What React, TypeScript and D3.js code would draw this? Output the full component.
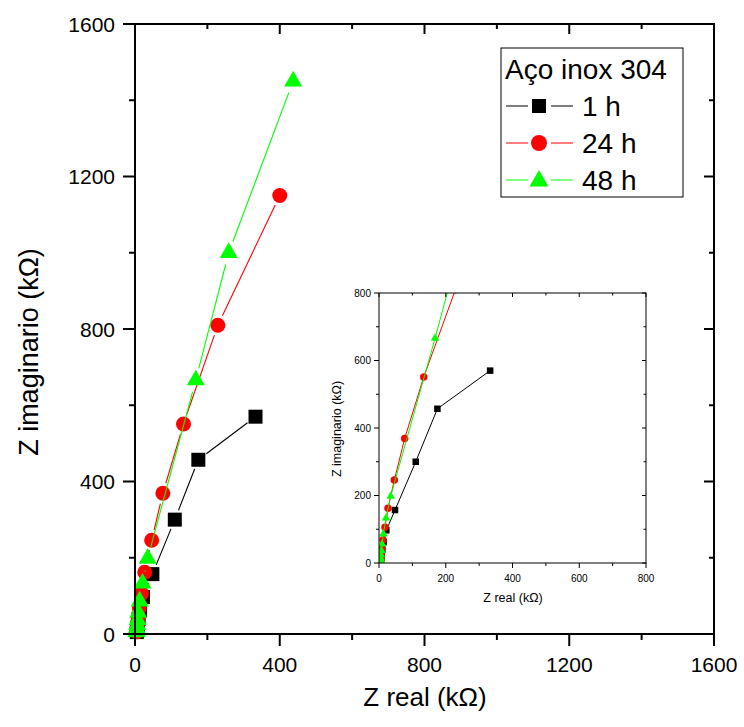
import React from "react";
import * as d3 from "d3";

// Impedance data (kΩ): [Z real, Z imaginario]
const serie1h: [number, number][] = [
  [333, 570], [175, 457], [110, 300], [48, 157], [22, 97], [14, 62],
  [10, 40], [8, 26], [7, 16], [6, 9], [5, 5],
];
const serie24h: [number, number][] = [
  [400, 1150], [229, 810], [134, 551], [77, 369], [46, 246], [27, 162],
  [18, 106], [12, 68], [9, 44], [7, 29], [6, 18], [5, 11], [5, 6],
];
const serie48h: [number, number][] = [
  [437, 1450], [259, 1000], [168, 666], [35, 198], [21, 133], [13, 86],
  [9, 56], [7, 37], [6, 24], [5, 15], [5, 9], [4, 5],
];

const seriesNames = ["1 h", "24 h", "48 h"];
const seriesColors = ["#000000", "#ff0000", "#00ff00"];
const seriesShapes = ["square", "circle", "triangle"];
const seriesData = [serie1h, serie24h, serie48h];

const mainTicks = [0, 400, 800, 1200, 1600];
const mainMinor = [200, 600, 1000, 1400];
const insetTicks = [0, 200, 400, 600, 800];
const insetMinor = [100, 300, 500, 700];

const legendTitle = "Aço inox 304";
const xTitle = "Z real (kΩ)";
const yTitle = "Z imaginario (kΩ)";

const FONT = "'Liberation Sans', Arial, sans-serif";

function symbolPath(shape: string, size: number) {
  // size = nominal width in px
  if (shape === "square") return d3.symbol(d3.symbolSquare, size * size)()!;
  if (shape === "circle") return d3.symbol(d3.symbolCircle, Math.PI * (size / 2) ** 2)()!;
  return d3.symbol(d3.symbolTriangle, (Math.sqrt(3) / 4) * size * size)()!;
}

function Series({
  data, color, shape, x, y, size, gap, lw,
}: {
  data: [number, number][]; color: string; shape: string;
  x: d3.ScaleLinear<number, number>; y: d3.ScaleLinear<number, number>;
  size: number; gap: number; lw: number;
}) {
  const pts = data.map(([a, b]) => [x(a), y(b)] as [number, number]);
  const segs: React.ReactNode[] = [];
  for (let i = 0; i < pts.length - 1; i++) {
    const [x1, y1] = pts[i];
    const [x2, y2] = pts[i + 1];
    const dx = x2 - x1, dy = y2 - y1;
    const len = Math.hypot(dx, dy);
    if (len <= 2 * gap) continue;
    const ux = dx / len, uy = dy / len;
    segs.push(
      <line key={i} x1={x1 + ux * gap} y1={y1 + uy * gap} x2={x2 - ux * gap} y2={y2 - uy * gap}
        stroke={color} strokeWidth={lw} />
    );
  }
  const d = symbolPath(shape, size);
  return (
    <g>
      {segs}
      {pts.map(([px, py], i) => (
        <path key={i} d={d} transform={`translate(${px},${py})`} fill={color} />
      ))}
    </g>
  );
}

export default function App() {
  const W = 744, H = 727;
  const x = d3.scaleLinear().domain([0, 1600]).range([135, 714]);
  const y = d3.scaleLinear().domain([0, 1600]).range([634, 24]);
  const xi = d3.scaleLinear().domain([0, 800]).range([379, 646]);
  const yi = d3.scaleLinear().domain([0, 800]).range([563, 293]);

  const mainSizes = [14, 15, 18];
  const insetSizes = [6.5, 7.5, 8.5];

  return (
    <svg width={W} height={H} style={{ position: "absolute", left: 0, top: 0, background: "#fff" }}
      fontFamily={FONT}>
      <rect x={0} y={0} width={W} height={H} fill="#fff" />

      {/* main plot data */}
      {seriesData.map((s, i) => (
        <Series key={i} data={s} color={seriesColors[i]} shape={seriesShapes[i]} x={x} y={y}
          size={mainSizes[i]} gap={mainSizes[i] / 2 + 3} lw={1.1} />
      ))}

      {/* main frame */}
      <rect x={x(0)} y={y(1600)} width={x(1600) - x(0)} height={y(0) - y(1600)}
        fill="none" stroke="#000" strokeWidth={2} />
      {mainTicks.map((t) => (
        <g key={"mt" + t}>
          <line x1={x(t)} x2={x(t)} y1={y(0)} y2={y(0) + 12} stroke="#000" strokeWidth={2} />
          <line x1={x(t)} x2={x(t)} y1={y(1600)} y2={y(1600) + 10} stroke="#000" strokeWidth={2} />
          <line x1={x(0) - 12} x2={x(0)} y1={y(t)} y2={y(t)} stroke="#000" strokeWidth={2} />
          <line x1={x(1600) - 10} x2={x(1600)} y1={y(t)} y2={y(t)} stroke="#000" strokeWidth={2} />
          <text x={x(t)} y={672} textAnchor="middle" fontSize={21}>{t}</text>
          <text x={115} y={y(t)} dy="0.36em" textAnchor="end" fontSize={21}>{t}</text>
        </g>
      ))}
      {mainMinor.map((t) => (
        <g key={"mm" + t}>
          <line x1={x(t)} x2={x(t)} y1={y(0)} y2={y(0) + 6} stroke="#000" strokeWidth={2} />
          <line x1={x(t)} x2={x(t)} y1={y(1600)} y2={y(1600) + 5} stroke="#000" strokeWidth={2} />
          <line x1={x(0) - 6} x2={x(0)} y1={y(t)} y2={y(t)} stroke="#000" strokeWidth={2} />
          <line x1={x(1600) - 5} x2={x(1600)} y1={y(t)} y2={y(t)} stroke="#000" strokeWidth={2} />
        </g>
      ))}
      <text x={425} y={706} textAnchor="middle" fontSize={26}>{xTitle}</text>
      <text transform={`translate(38,${(y(0) + y(1600)) / 2 + 23}) rotate(-90)`} textAnchor="middle"
        fontSize={27}>{yTitle}</text>

      {/* legend */}
      <rect x={501} y={48} width={182} height={149} fill="#fff" stroke="#000" strokeWidth={1} />
      <text x={505} y={79} fontSize={28}>{legendTitle}</text>
      {seriesNames.map((n, i) => {
        const cy = 106 + i * 37;
        return (
          <g key={n}>
            <line x1={506} x2={528} y1={cy} y2={cy} stroke={seriesColors[i]} strokeWidth={1} />
            <line x1={551} x2={573} y1={cy} y2={cy} stroke={seriesColors[i]} strokeWidth={1} />
            <path d={symbolPath(seriesShapes[i], [14, 16, 19][i])}
              transform={`translate(539,${cy + (i === 2 ? 1 : 0)})`} fill={seriesColors[i]} />
            <text x={582} y={cy} dy="0.36em" fontSize={28}>{n}</text>
          </g>
        );
      })}

      {/* inset */}
      <defs>
        <clipPath id="insetClip">
          <rect x={xi(0)} y={yi(800)} width={xi(800) - xi(0)} height={yi(0) - yi(800)} />
        </clipPath>
      </defs>
      <rect x={xi(0)} y={yi(800)} width={xi(800) - xi(0)} height={yi(0) - yi(800)} fill="#fff" />
      <g clipPath="url(#insetClip)">
        {seriesData.map((s, i) => (
          <Series key={i} data={s} color={seriesColors[i]} shape={seriesShapes[i]} x={xi} y={yi}
            size={insetSizes[i]} gap={0} lw={1} />
        ))}
      </g>
      <rect x={xi(0)} y={yi(800)} width={xi(800) - xi(0)} height={yi(0) - yi(800)}
        fill="none" stroke="#000" strokeWidth={1} />
      {insetTicks.map((t) => (
        <g key={"it" + t}>
          <line x1={xi(t)} x2={xi(t)} y1={yi(0)} y2={yi(0) + 5} stroke="#000" />
          <line x1={xi(t)} x2={xi(t)} y1={yi(800)} y2={yi(800) + 4} stroke="#000" />
          <line x1={xi(0) - 5} x2={xi(0)} y1={yi(t)} y2={yi(t)} stroke="#000" />
          <line x1={xi(800) - 4} x2={xi(800)} y1={yi(t)} y2={yi(t)} stroke="#000" />
          <text x={xi(t)} y={582} textAnchor="middle" fontSize={10}>{t}</text>
          <text x={371} y={yi(t)} dy="0.36em" textAnchor="end" fontSize={10}>{t}</text>
        </g>
      ))}
      {insetMinor.map((t) => (
        <g key={"im" + t}>
          <line x1={xi(t)} x2={xi(t)} y1={yi(0)} y2={yi(0) + 3} stroke="#000" />
          <line x1={xi(t)} x2={xi(t)} y1={yi(800)} y2={yi(800) + 2.5} stroke="#000" />
          <line x1={xi(0) - 3} x2={xi(0)} y1={yi(t)} y2={yi(t)} stroke="#000" />
          <line x1={xi(800) - 2.5} x2={xi(800)} y1={yi(t)} y2={yi(t)} stroke="#000" />
        </g>
      ))}
      <text x={513} y={602} textAnchor="middle" fontSize={12.5}>{xTitle}</text>
      <text transform={`translate(341,429) rotate(-90)`} textAnchor="middle" fontSize={12.5}>{yTitle}</text>
    </svg>
  );
}
